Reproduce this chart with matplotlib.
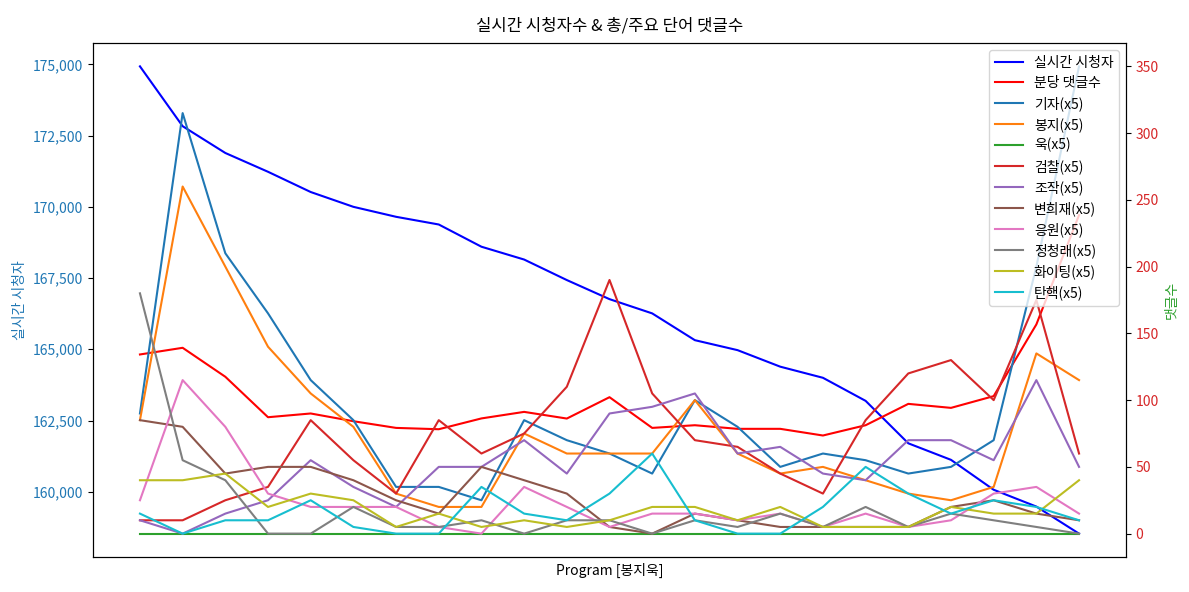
import matplotlib
matplotlib.use("Agg")
import matplotlib.pyplot as plt
from matplotlib.ticker import FuncFormatter, MultipleLocator

plt.rcParams['font.family'] = ['Noto Sans CJK KR', 'DejaVu Sans']
plt.rcParams['axes.unicode_minus'] = False

# ---- data ----
viewers = [174930, 172830, 171890, 171230, 170520, 170000, 169650, 169380, 168600,
           168150, 167430, 166760, 166260, 165320, 164970, 164390, 164000, 163190,
           161700, 161120, 160070, 159480, 158530]
comments_per_min = [134.2, 139.2, 117.5, 87.2, 90.0, 84.2, 79.2, 78.2, 86.3, 91.2, 86.2,
                    102.2, 79.2, 81.2, 78.5, 78.5, 73.5, 81.2, 97.2, 94.2, 103.0, 156.7, 238.6]

keyword_names = ['기자', '봉지', '욱', '검찰', '조작', '변희재', '응원', '정청래', '화이팅', '탄핵']
kw_gija = [90, 315, 210, 165, 115, 85, 35, 35, 25, 85, 70, 60, 45, 100, 80, 50, 60, 55, 45, 50, 70, 200, 350]
kw_bongji = [85, 260, 200, 140, 105, 80, 30, 20, 20, 75, 60, 60, 60, 100, 60, 45, 50, 40, 30, 25, 35, 135, 115]
kw_uk = [0, 0, 0, 0, 0, 0, 0, 0, 0, 0, 0, 0, 0, 0, 0, 0, 0, 0, 0, 0, 0, 0, 0]
kw_geomchal = [10, 10, 25, 35, 85, 55, 30, 85, 60, 75, 110, 190, 105, 70, 65, 45, 30, 85, 120, 130, 100, 175, 60]
kw_jojak = [10, 0, 15, 25, 55, 35, 20, 50, 50, 70, 45, 90, 95, 105, 60, 65, 45, 40, 70, 70, 55, 115, 50]
kw_byeon = [85, 80, 45, 50, 50, 40, 25, 15, 50, 40, 30, 5, 0, 15, 10, 5, 5, 5, 5, 20, 25, 15, 10]
kw_eungwon = [25, 115, 80, 30, 20, 20, 20, 5, 0, 35, 20, 5, 15, 15, 10, 15, 5, 15, 5, 10, 30, 35, 15]
kw_jung = [180, 55, 40, 0, 0, 20, 5, 5, 10, 0, 10, 10, 0, 10, 5, 15, 5, 20, 5, 15, 10, 5, 0]
kw_fighting = [40, 40, 45, 20, 30, 25, 5, 15, 5, 10, 5, 10, 20, 20, 10, 20, 5, 5, 5, 20, 15, 15, 40]
kw_tanhaek = [15, 0, 10, 10, 25, 5, 0, 0, 35, 15, 10, 30, 60, 10, 0, 0, 20, 50, 30, 15, 25, 20, 10]

keyword_series = [kw_gija, kw_bongji, kw_uk, kw_geomchal, kw_jojak, kw_byeon,
                  kw_eungwon, kw_jung, kw_fighting, kw_tanhaek]
x = list(range(len(viewers)))

# ---- plot ----
fig = plt.figure(figsize=(11.89, 5.92), dpi=100)
ax1 = fig.add_axes([93 / 1189, 1 - 557 / 592, (1126 - 93) / 1189, (557 - 43) / 592])
ax2 = ax1.twinx()

l1, = ax1.plot(x, viewers, color='blue', lw=1.5, label='실시간 시청자')
l2, = ax2.plot(x, comments_per_min, color='red', lw=1.5, label='분당 댓글수')
handles = [l1, l2]
for i, (name, vals) in enumerate(zip(keyword_names, keyword_series)):
    h, = ax2.plot(x, vals, color=f'C{i}', lw=1.5, label=f'{name}(x5)')
    handles.append(h)

ax1.set_xticks([])
ax1.set_xlabel('Program [봉지욱]', fontsize=10)
ax1.set_ylabel('실시간 시청자', color='tab:blue', fontsize=10)
ax1.tick_params(axis='y', labelcolor='tab:blue', labelsize=10)
ax1.yaxis.set_major_locator(MultipleLocator(2500))
ax1.yaxis.set_major_formatter(FuncFormatter(lambda v, p: f'{int(v):,}'))

ax2.set_ylabel('댓글수', color='tab:green', fontsize=10)
ax2.tick_params(axis='y', labelcolor='tab:red', labelsize=10)
ax2.yaxis.set_major_locator(MultipleLocator(50))

ax1.set_title('실시간 시청자수 & 총/주요 단어 댓글수', fontsize=12, pad=9)
ax2.legend(handles=handles, loc='upper right', fontsize=10, labelspacing=0.45)

fig.savefig('out.png', dpi=100)
